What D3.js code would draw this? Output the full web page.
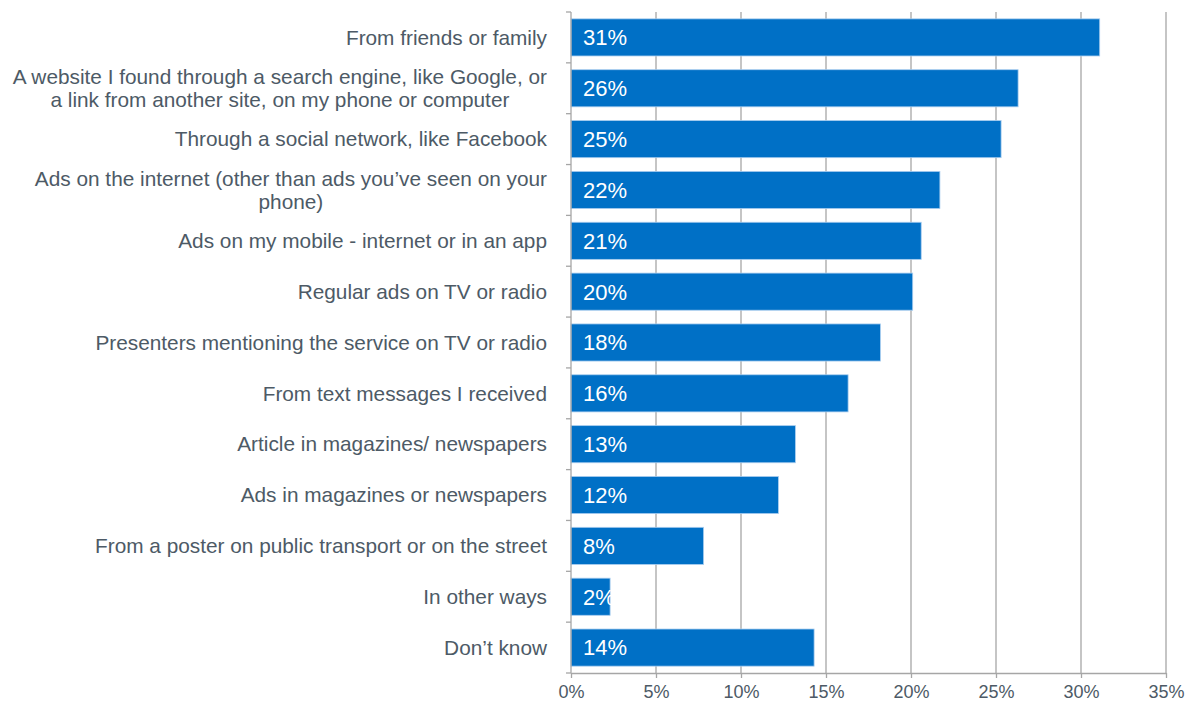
<!DOCTYPE html>
<html>
<head>
<meta charset="utf-8">
<script src="https://cdn.jsdelivr.net/npm/d3@7"></script>
<style>
  html, body { margin: 0; padding: 0; background: #ffffff; }
  svg { display: block; font-family: "Liberation Sans", Arial, sans-serif; }
</style>
</head>
<body>
<svg id="chart" width="1191" height="704"></svg>
<script>
// Where respondents heard about the service (share of respondents)
const categories = [
  ["From friends or family"],
  ["A website I found through a search engine, like Google, or", "a link from another site, on my phone or computer"],
  ["Through a social network, like Facebook"],
  ["Ads on the internet (other than ads you\u2019ve seen on your", "phone)"],
  ["Ads on my mobile - internet or in an app"],
  ["Regular ads on TV or radio"],
  ["Presenters mentioning the service on TV or radio"],
  ["From text messages I received"],
  ["Article in magazines/ newspapers"],
  ["Ads in magazines or newspapers"],
  ["From a poster on public transport or on the street"],
  ["In other ways"],
  ["Don\u2019t know"]
];
const values = [0.311, 0.263, 0.253, 0.217, 0.206, 0.201, 0.182, 0.163, 0.132, 0.122, 0.078, 0.023, 0.143];
const xTicks = [0, 0.05, 0.10, 0.15, 0.20, 0.25, 0.30, 0.35];

const svg = d3.select("#chart");
const margin = { top: 12, right: 25, bottom: 31, left: 571 };
const W = 1191, H = 704;
const innerW = W - margin.left - margin.right;
const innerH = H - margin.top - margin.bottom;

const textColor = "#4d5a66";
const gridColor = "#a6a6a6";
const barColor = "#0070c6";

const x = d3.scaleLinear().domain([0, 0.35]).range([0, innerW]);
const y = d3.scaleBand().domain(d3.range(categories.length)).range([0, innerH]).paddingInner(0.27).paddingOuter(0.135);

const g = svg.append("g").attr("transform", `translate(${margin.left},${margin.top})`);

// vertical gridlines
g.selectAll("line.grid").data(xTicks.slice(1)).join("line")
  .attr("class", "grid")
  .attr("x1", d => x(d)).attr("x2", d => x(d))
  .attr("y1", 0).attr("y2", innerH)
  .attr("stroke", gridColor).attr("stroke-width", 1.3);

// bars
g.selectAll("rect.bar").data(values).join("rect")
  .attr("class", "bar")
  .attr("x", 0)
  .attr("y", (d, i) => y(i))
  .attr("width", d => x(d))
  .attr("height", y.bandwidth())
  .attr("fill", barColor)
  .attr("stroke", "#a9cdef")
  .attr("stroke-width", 0.8);

// value labels inside bars
g.selectAll("text.val").data(values).join("text")
  .attr("class", "val")
  .attr("x", 12)
  .attr("y", (d, i) => y(i) + y.bandwidth() / 2)
  .attr("dy", "0.36em")
  .attr("fill", "#ffffff")
  .attr("font-size", 22)
  .text(d => d3.format(".0%")(d));

// left axis line with category boundary ticks
const bounds = d3.range(categories.length + 1).map(i => i * y.step());
g.append("line")
  .attr("x1", 0).attr("x2", 0).attr("y1", 0).attr("y2", innerH)
  .attr("stroke", gridColor).attr("stroke-width", 1.3);
g.selectAll("line.ytick").data(bounds).join("line")
  .attr("class", "ytick")
  .attr("x1", -5).attr("x2", 0)
  .attr("y1", d => d).attr("y2", d => d)
  .attr("stroke", gridColor).attr("stroke-width", 1.3);

// category labels (first line right-aligned, continuation lines centred under it)
const labels = g.selectAll("text.cat").data(categories).join("text")
  .attr("class", "cat")
  .attr("fill", textColor)
  .attr("font-size", 20.8)
  .attr("transform", (d, i) => `translate(-24,${y(i) + y.bandwidth() / 2})`);
labels.each(function(lines) {
  const t = d3.select(this);
  const lh = 23;
  const start = -(lines.length - 1) * lh / 2;
  lines.forEach((ln, k) => {
    t.append("tspan")
      .attr("x", 0)
      .attr("y", start + k * lh)
      .attr("dy", "0.35em")
      .attr("text-anchor", k > 0 ? "middle" : "end")
      .text(ln);
  });
});
labels.each(function(lines) {
  if (lines.length < 2) return;
  const spans = d3.select(this).selectAll("tspan").nodes();
  const w0 = spans[0].getComputedTextLength();
  spans.slice(1).forEach(s => d3.select(s).attr("x", -w0 / 2));
});

// bottom axis
const xAxis = g.append("g")
  .attr("transform", `translate(0,${innerH})`)
  .call(d3.axisBottom(x).tickValues(xTicks).tickFormat(d3.format(".0%")).tickSize(5).tickSizeOuter(0));
xAxis.select(".domain").attr("stroke", gridColor).attr("stroke-width", 1.3);
xAxis.selectAll(".tick line").attr("stroke", gridColor).attr("stroke-width", 1.3);
xAxis.selectAll(".tick text")
  .attr("fill", textColor)
  .attr("font-size", 18)
  .attr("font-family", "Liberation Sans, Arial, sans-serif")
  .attr("dy", "0.95em");
</script>
</body>
</html>
